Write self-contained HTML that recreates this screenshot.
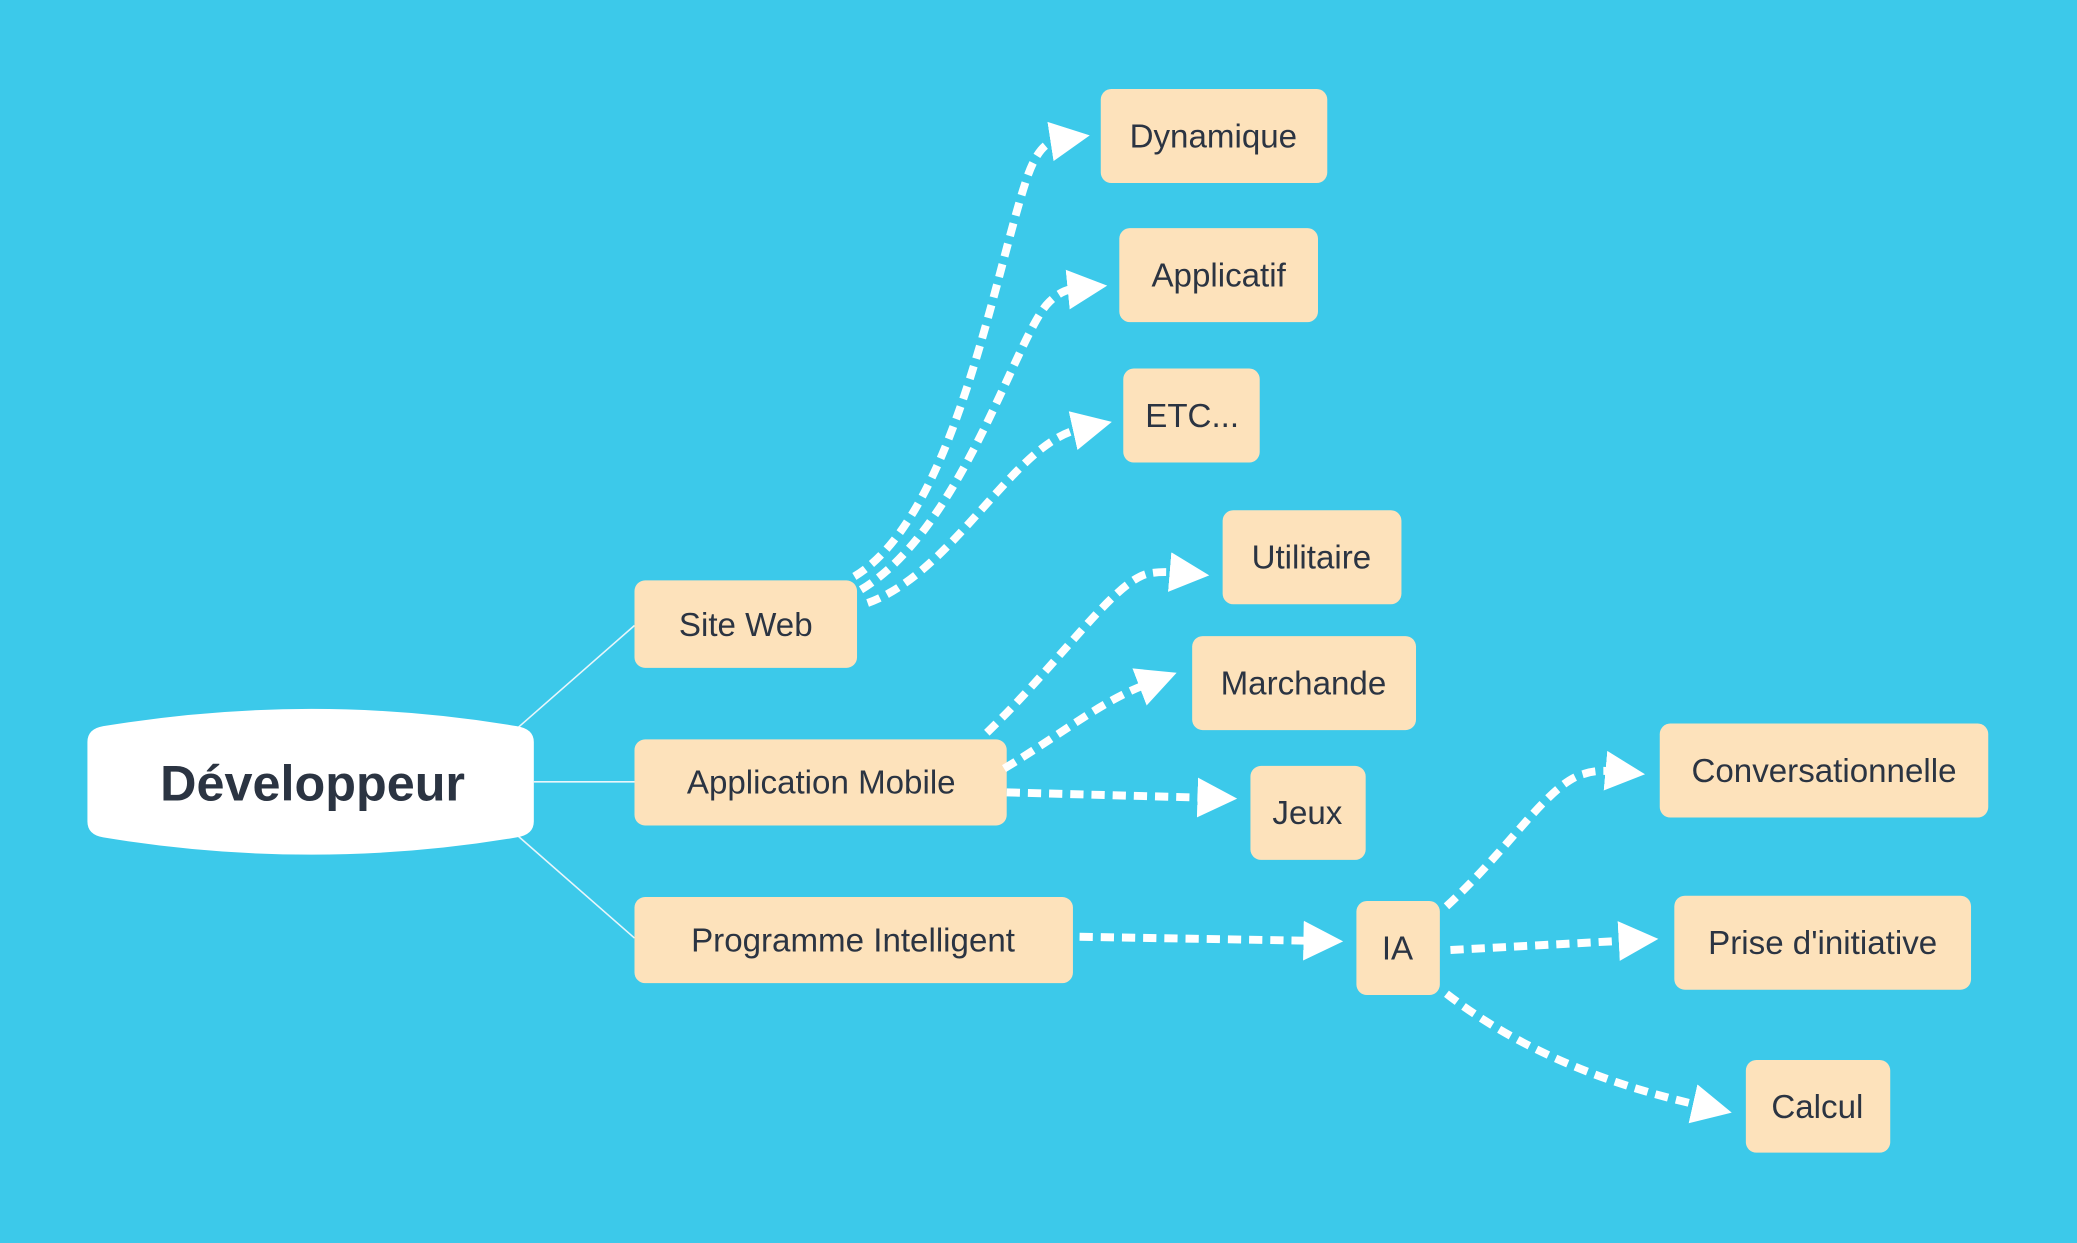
<!DOCTYPE html>
<html><head><meta charset="utf-8"><style>
html,body{margin:0;padding:0;background:#3cc9ea;}
svg{display:block}
text{font-family:"Liberation Sans",sans-serif;fill:#2b3442;}
</style></head><body>
<svg width="2077" height="1243" viewBox="0 0 1568 938" xmlns="http://www.w3.org/2000/svg">
<defs>
<marker id="a" markerUnits="userSpaceOnUse" markerWidth="32" markerHeight="34" refX="4" refY="17" orient="auto">
<path d="M0,2 L30,17 L0,32 Z" fill="#fff"/>
</marker>
</defs>
<rect width="1568" height="938" fill="#3cc9ea"/>
<g stroke="#e8f6fb" stroke-width="1.2" fill="none">
<path d="M390,550 L479,472"/>
<path d="M403,590 L479,590"/>
<path d="M390,630 L479,708"/>
</g>
<path d="M66,560 Q66,550 78,548 Q236,522 390,548 Q403,550 403,560 L403,620 Q403,630 390,632 Q236,658 78,632 Q66,630 66,620 Z" fill="#fff"/>
<text x="236" y="604" font-size="38" font-weight="bold" text-anchor="middle">Développeur</text>
<g fill="#fde2bb">
<rect x="479" y="438" width="168" height="66" rx="8"/>
<rect x="479" y="558" width="281" height="65" rx="8"/>
<rect x="479" y="677" width="331" height="65" rx="8"/>
<rect x="831" y="67" width="171" height="71" rx="8"/>
<rect x="845" y="172" width="150" height="71" rx="8"/>
<rect x="848" y="278" width="103" height="71" rx="8"/>
<rect x="923" y="385" width="135" height="71" rx="8"/>
<rect x="900" y="480" width="169" height="71" rx="8"/>
<rect x="944" y="578" width="87" height="71" rx="8"/>
<rect x="1024" y="680" width="63" height="71" rx="8"/>
<rect x="1253" y="546" width="248" height="71" rx="8"/>
<rect x="1264" y="676" width="224" height="71" rx="8"/>
<rect x="1318" y="800" width="109" height="70" rx="8"/>
</g>
<g font-size="25" text-anchor="middle">
<text x="563" y="480">Site Web</text>
<text x="620" y="599">Application Mobile</text>
<text x="644" y="718">Programme Intelligent</text>
<text x="916" y="111">Dynamique</text>
<text x="920" y="216">Applicatif</text>
<text x="900" y="322">ETC...</text>
<text x="990" y="429">Utilitaire</text>
<text x="984" y="524">Marchande</text>
<text x="987" y="622">Jeux</text>
<text x="1055" y="724">IA</text>
<text x="1377" y="590">Conversationnelle</text>
<text x="1376" y="720">Prise d'initiative</text>
<text x="1372" y="844">Calcul</text>
</g>
<g stroke="#fff" stroke-width="6" fill="none" stroke-dasharray="10 6" marker-end="url(#a)">
<path d="M645,435 C720,390 750,210 775,135 Q784,108 797,106"/>
<path d="M650,445 C725,400 765,260 790,230 Q800,219 810,218"/>
<path d="M655,455 C720,432 765,335 814,324"/>
<path d="M745,553 C800,500 840,440 866,433 Q875,431 887,432"/>
<path d="M758,580 C800,555 830,530 864,517"/>
<path d="M760,598 L908,602"/>
<path d="M815,707 L988,710"/>
<path d="M1092,684 C1140,640 1170,590 1196,584 Q1205,581 1216,582"/>
<path d="M1095,717 L1226,710"/>
<path d="M1092,750 C1150,795 1220,820 1282,834"/>
</g>
</svg>
</body></html>
